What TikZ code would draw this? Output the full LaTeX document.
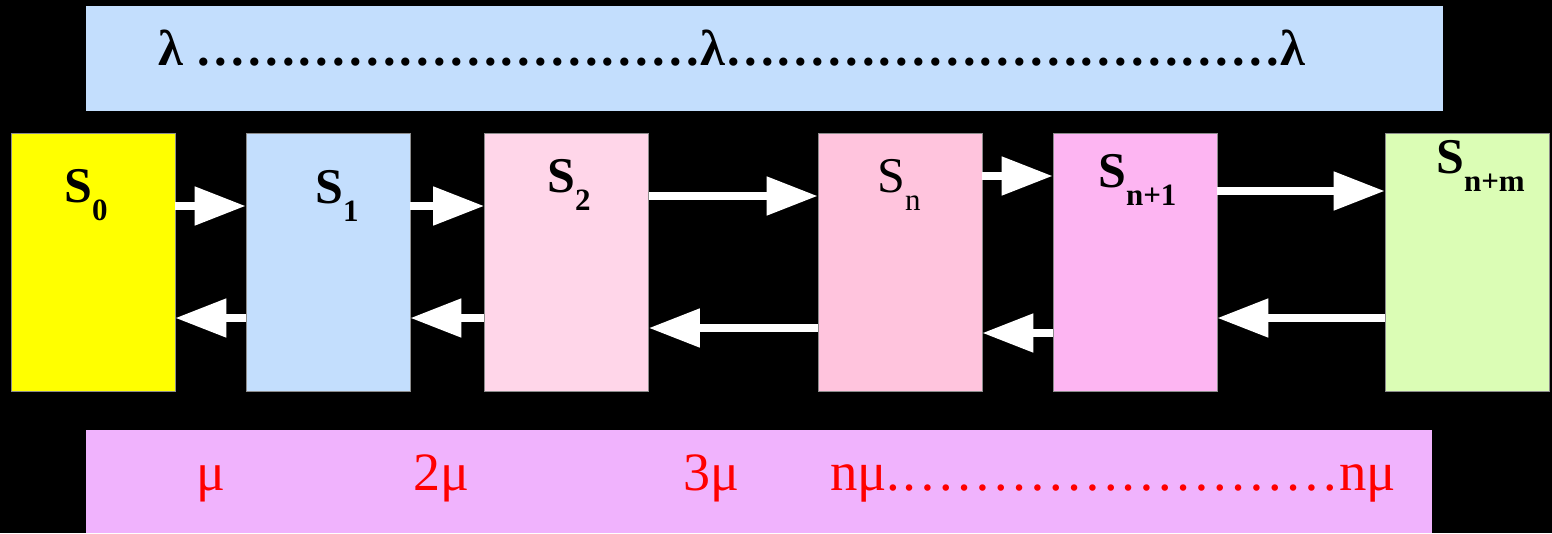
\documentclass[tikz,border=0pt]{standalone}
\usepackage{fontspec}
\setmainfont{Liberation Serif}
\usepackage{tikz}
\usetikzlibrary{arrows.meta}
\definecolor{bandblue}{HTML}{C3DEFD}
\definecolor{bandviolet}{HTML}{F0B3FD}
\definecolor{styellow}{HTML}{FFFF00}
\definecolor{stblue}{HTML}{C3DEFD}
\definecolor{stpink}{HTML}{FFD6E9}
\definecolor{strose}{HTML}{FFC4DD}
\definecolor{stmagenta}{HTML}{FDB5F2}
\definecolor{stgreen}{HTML}{DBFDB5}
\definecolor{ratered}{HTML}{FF0000}
\tikzset{state/.style={rectangle,draw=black!45,line width=0.6pt,minimum width=164pt,minimum height=258pt,inner sep=0pt}}
\tikzset{band/.style={rectangle,draw=none,inner sep=0pt}}
\tikzset{fwd/.style={draw=white,line width=8pt,-{Triangle[length=51pt,width=37pt]}}}
\tikzset{lab/.style={inner sep=0pt,anchor=base west}}
\newcommand{\slab}[1]{{\fontsize{50}{50}\selectfont S}\raisebox{-18pt}{\fontsize{31}{31}\selectfont #1}}
\newcommand{\ells}[1]{\foreach \k in {1,...,#1}{…}}

\begin{document}
\begin{tikzpicture}[x=1pt,y=-1pt]

\fill[black] (0,0) rectangle (1552,533);
\useasboundingbox (0,0) rectangle (1552,533);

% rate bands
\node (lamband) at (764.5,58.5) [band,fill=bandblue,minimum width=1357pt,minimum height=105pt] {};
\node (muband) at (759,481.5) [band,fill=bandviolet,minimum width=1346pt,minimum height=103pt] {};

\node (lamtxt) at (158,65) [lab] {\fontsize{50.5}{51}\selectfont\bfseries λ \ells{10}λ\ells{11}λ};

\node (mu1) at (196,490) [lab] {\fontsize{54}{54}\selectfont\color{ratered}μ};
\node (mu2) at (413,490) [lab] {\fontsize{54}{54}\selectfont\color{ratered}2μ};
\node (mu3) at (683,490) [lab] {\fontsize{54}{54}\selectfont\color{ratered}3μ};
\node (mun) at (830,490) [lab] {\fontsize{54.8}{55}\selectfont\color{ratered}nμ.\ells{8}nμ};

% states
\foreach \i/\x/\col in {S0/93/styellow,S1/328/stblue,S2/566.5/stpink,Sn/900/strose,Sn1/1135/stmagenta,Snm/1467/stgreen} {
	\node (\i) at (\x,262) [state,fill=\col] {};
}

\node (L0) at (64,202) [lab] {\bfseries\slab{0}};
\node (L1) at (315,203) [lab] {\bfseries\slab{1}};
\node (L2) at (547,192) [lab] {\bfseries\slab{2}};
\node (Ln) at (877,192) [lab] {\slab{n}};
\node (Ln1) at (1098,187) [lab] {\bfseries\slab{n+1}};
\node (Lnm) at (1436,173) [lab] {\bfseries\slab{n+m}};

% transitions
\foreach \a/\b/\up/\dn in {S0/S1/56/56,S1/S2/56/56,S2/Sn/66/66,Sn/Sn1/86/71,Sn1/Snm/71/56} {
	\draw[fwd] ([yshift=\up]\a.east) -- ([yshift=\up]\b.west);
	\draw[fwd] ([yshift=-\dn]\b.west) -- ([yshift=-\dn]\a.east);
}

\end{tikzpicture}
\end{document}
